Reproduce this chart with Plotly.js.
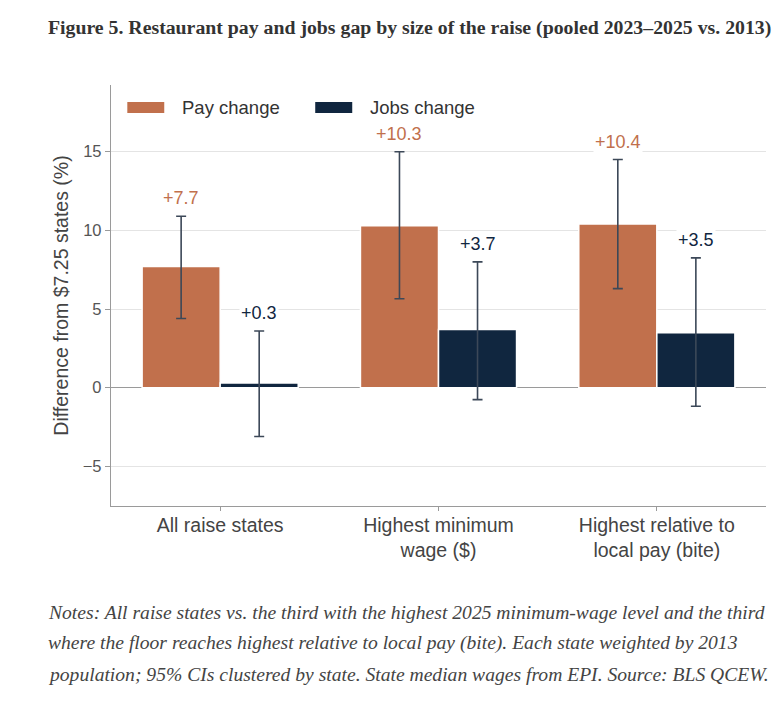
<!DOCTYPE html>
<html>
<head>
<meta charset="utf-8">
<script src="https://cdn.plot.ly/plotly-3.0.1.min.js"></script>
<style>
  html, body { margin: 0; padding: 0; background: #fff; }
  #chart { width: 784px; height: 703px; }
</style>
</head>
<body>
<div id="chart"></div>
<script>
// chart data
const groups = ['All raise states', 'Highest minimum<br>wage ($)', 'Highest relative to<br>local pay (bite)'];
const seriesNames = ['Pay change', 'Jobs change'];

const payValues = [7.7, 10.3, 10.4];
const payLow = [4.4, 5.65, 6.3];
const payHigh = [10.9, 15.0, 14.5];

const jobsValues = [0.3, 3.7, 3.5];
const jobsLow = [-3.1, -0.76, -1.18];
const jobsHigh = [3.6, 8.0, 8.25];

const yTicks = [-5, 0, 5, 10, 15];

const noteLines = [
    'Notes: All raise states vs. the third with the highest 2025 minimum-wage level and the third',
    'where the floor reaches highest relative to local pay (bite). Each state weighted by 2013',
    'population; 95% CIs clustered by state. State median wages from EPI. Source: BLS QCEW.'
];

const payColor = '#c1704c';
const jobsColor = '#10263f';
const ciColor = '#3c4858';
const bargap = 0.285;

function makeBar(name, values, low, high, color) {
    return {
        type: 'bar',
        name: name,
        x: groups,
        y: values,
        marker: { color: color, line: { color: '#ffffff', width: 1.5 } },
        error_y: {
            type: 'data',
            symmetric: false,
            array: values.map((v, i) => high[i] - v),
            arrayminus: values.map((v, i) => v - low[i]),
            color: ciColor,
            thickness: 1.6,
            width: 5
        },
        hoverinfo: 'skip',
        showlegend: false
    };
}

let data = [
    makeBar(seriesNames[0], payValues, payLow, payHigh, payColor),
    makeBar(seriesNames[1], jobsValues, jobsLow, jobsHigh, jobsColor)
];

const fmt = v => (v >= 0 ? '+' : '\u2212') + Math.abs(v).toFixed(1);
const off = (1 - bargap) / 4;

let annotations = [];
groups.forEach((g, i) => {
    annotations.push({
        x: i - off, y: payHigh[i], xref: 'x', yref: 'y',
        text: fmt(payValues[i]), showarrow: false,
        yanchor: 'middle', yshift: 18, bgcolor: '#ffffff',
        font: { family: 'Liberation Sans, Arial, sans-serif', size: 18, color: payColor }
    });
    annotations.push({
        x: i + off, y: jobsHigh[i], xref: 'x', yref: 'y',
        text: fmt(jobsValues[i]), showarrow: false,
        yanchor: 'middle', yshift: 18, bgcolor: '#ffffff',
        font: { family: 'Liberation Sans, Arial, sans-serif', size: 18, color: jobsColor }
    });
});

// legend drawn by hand so the swatches are wide like the original
const legendFont = { family: 'Liberation Sans, Arial, sans-serif', size: 18.5, color: '#333' };
annotations.push(
    { xref: 'paper', yref: 'paper', x: 0.1057, y: 0.9477, xanchor: 'left', yanchor: 'middle',
      text: seriesNames[0], showarrow: false, font: legendFont },
    { xref: 'paper', yref: 'paper', x: 0.3926, y: 0.9477, xanchor: 'left', yanchor: 'middle',
      text: seriesNames[1], showarrow: false, font: legendFont }
);

const noteY = [-0.2527, -0.3264, -0.4001];
noteLines.forEach((line, i) => {
    annotations.push({
        xref: 'paper', yref: 'paper', x: -0.1, y: noteY[i],
        xanchor: 'left', yanchor: 'middle', showarrow: false, text: line,
        font: { family: 'Liberation Serif, serif', size: 19.6, color: '#444', style: 'italic' }
    });
});

let shapes = [
    { type: 'rect', xref: 'paper', yref: 'paper', x0: 0.0249, x1: 0.0813, y0: 0.9337, y1: 0.9599,
      fillcolor: payColor, line: { width: 0 } },
    { type: 'rect', xref: 'paper', yref: 'paper', x0: 0.3118, x1: 0.3683, y0: 0.9337, y1: 0.9599,
      fillcolor: jobsColor, line: { width: 0 } }
];

let layout = {
    width: 784,
    height: 703,
    margin: { l: 110.7, r: 18, t: 85, b: 197.3 },
    paper_bgcolor: '#ffffff',
    plot_bgcolor: '#ffffff',
    barmode: 'group',
    bargap: bargap,
    bargroupgap: 0,
    font: { family: 'Liberation Sans, Arial, sans-serif', color: '#444' },
    title: {
        text: '<b>Figure 5. Restaurant pay and jobs gap by size of the raise (pooled 2023\u20132025 vs. 2013)</b>',
        x: 0.0612, xanchor: 'left', xref: 'container',
        y: 0.9616, yanchor: 'middle', yref: 'container',
        font: { family: 'Liberation Serif, serif', size: 19.8, color: '#333' }
    },
    xaxis: {
        type: 'category',
        range: [-0.5, 2.5],
        showline: true, linecolor: '#9a9a9a', linewidth: 1.2,
        ticks: 'outside', ticklen: 4, tickcolor: '#9a9a9a',
        ticklabelstandoff: -3,
        showgrid: false, zeroline: false,
        tickfont: { size: 19.5, color: '#444' },
        fixedrange: true
    },
    yaxis: {
        range: [-7.52, 19.24],
        tickvals: yTicks,
        showline: true, linecolor: '#9a9a9a', linewidth: 1.2,
        ticks: 'outside', ticklen: 5, tickcolor: '#9a9a9a',
        gridcolor: '#e4e4e4', gridwidth: 1,
        zeroline: true, zerolinecolor: '#9a9a9a', zerolinewidth: 1.2,
        tickfont: { size: 16.5, color: '#555' },
        title: { text: 'Difference from $7.25 states (%)', font: { size: 19.5, color: '#444' }, standoff: 8 },
        fixedrange: true
    },
    annotations: annotations,
    shapes: shapes,
    showlegend: false
};

Plotly.newPlot('chart', data, layout, { displayModeBar: false, staticPlot: true });
</script>
</body>
</html>
